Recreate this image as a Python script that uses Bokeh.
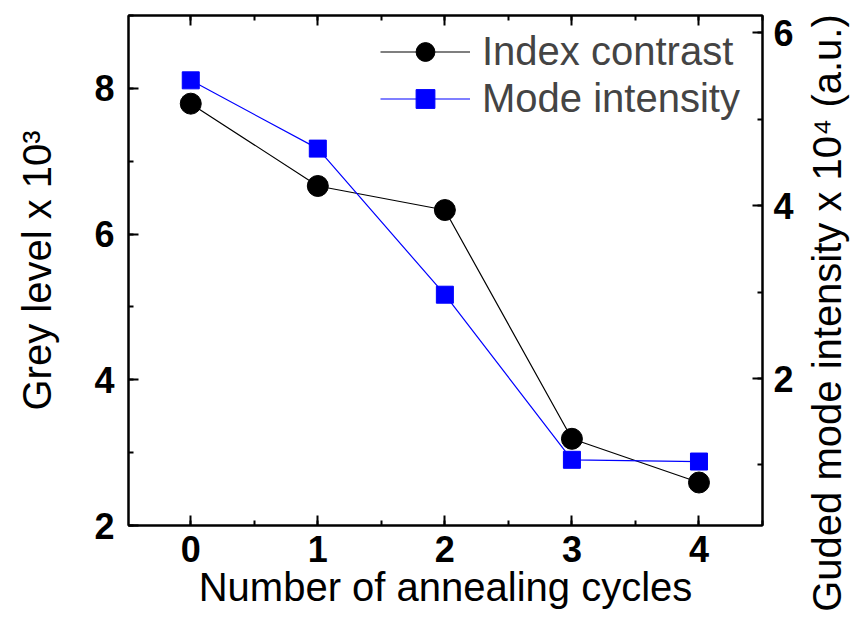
import math
from bokeh.plotting import figure
from bokeh.models import (LinearAxis, Range1d, SingleIntervalTicker, FixedTicker, Legend, LegendItem)
from bokeh.layouts import row, column
from bokeh.embed import file_html
from bokeh.resources import INLINE

cycles = [0, 1, 2, 3, 4]
index_contrast = [7.79, 6.66, 6.33, 3.19, 2.59]
mode_intensity = [5.45, 4.66, 2.97, 1.06, 1.04]
x_ticks_interval = 1
left_ticks_interval = 2
right_ticks_interval = 2

FONT = "Liberation Sans"

p = figure(frame_width=634, frame_height=510, output_backend="svg", toolbar_location=None,
           x_range=Range1d(-0.49, 4.5), y_range=Range1d(2, 9),
           min_border_left=128, min_border_right=38, min_border_top=15, min_border_bottom=100,
           x_axis_location=None, y_axis_location=None)
p.extra_y_ranges = {"right": Range1d(0.3, 6.2)}
p.grid.visible = False
p.outline_line_color = "black"
p.outline_line_width = 2
p.background_fill_color = "white"
p.border_fill_color = "white"

def style(ax):
    ax.axis_line_width = 2
    ax.axis_line_color = "black"
    ax.major_tick_in = 10
    ax.major_tick_out = 0
    ax.minor_tick_in = 5
    ax.minor_tick_out = 0
    ax.major_tick_line_width = 2
    ax.minor_tick_line_width = 2
    ax.major_label_text_font = FONT
    ax.major_label_text_font_style = "bold"
    ax.major_label_text_font_size = "36px"
    ax.major_label_text_color = "black"
    ax.axis_label_text_font = FONT
    ax.axis_label_text_font_style = "normal"
    ax.axis_label_text_font_size = "40px"
    ax.axis_label_text_color = "black"

xb = LinearAxis(ticker=SingleIntervalTicker(interval=x_ticks_interval, num_minor_ticks=2),
                axis_label="Number of annealing cycles")
style(xb)
xb.major_label_standoff = 10
xb.axis_label_standoff = 0
p.add_layout(xb, "below")

xt = LinearAxis(ticker=SingleIntervalTicker(interval=x_ticks_interval, num_minor_ticks=2))
style(xt)
xt.major_label_text_font_size = "1px"
xt.major_label_text_color = None
xt.major_label_standoff = 0
p.add_layout(xt, "above")

yl = LinearAxis(ticker=SingleIntervalTicker(interval=left_ticks_interval, num_minor_ticks=2),
                axis_label="Grey level x 10\u00b3")
style(yl)
yl.major_label_standoff = 14
yl.axis_label_standoff = 32
p.add_layout(yl, "left")

yr = LinearAxis(y_range_name="right",
                ticker=SingleIntervalTicker(interval=right_ticks_interval, num_minor_ticks=2))
style(yr)
yr.major_label_standoff = 11
p.add_layout(yr, "right")

l1 = p.line(cycles, index_contrast, line_color="black", line_width=1.2)
s1 = p.scatter(cycles, index_contrast, marker="circle", size=21, fill_color="black", line_color="black")
l2 = p.line(cycles, mode_intensity, line_color="#0000ff", line_width=1.2, y_range_name="right")
s2 = p.scatter(cycles, mode_intensity, marker="square", size=17, fill_color="#0000ff",
               line_color="#0000ff", y_range_name="right")

legend = Legend(items=[LegendItem(label="Index contrast", renderers=[l1, s1]),
                       LegendItem(label="Mode intensity", renderers=[l2, s2])],
                location=(252, 403), orientation="vertical")
legend.border_line_color = None
legend.background_fill_alpha = 0
legend.label_text_font = FONT
legend.label_text_font_size = "40px"
legend.glyph_width = 90
legend.glyph_height = 47
legend.label_height = 47
legend.label_standoff = 12
legend.spacing = 0
legend.padding = 0
legend.margin = 0
p.add_layout(legend, "center")

# narrow side panel whose (hidden) left axis carries the right-hand title, reading bottom to top
p2 = figure(width=52, height=625, output_backend="svg", toolbar_location=None,
            x_range=Range1d(0, 1), y_range=Range1d(0, 1),
            min_border_left=48, min_border_right=0, min_border_top=0, min_border_bottom=0,
            x_axis_location=None, y_axis_location=None)
p2.grid.visible = False
p2.outline_line_color = None
p2.background_fill_color = "white"
p2.border_fill_color = "white"
ya = LinearAxis(ticker=FixedTicker(ticks=[]),
                axis_label="Guded mode intensity x 10\u2074 (a.u.)")
ya.axis_line_color = None
ya.major_tick_line_color = None
ya.minor_tick_line_color = None
ya.major_label_text_color = None
ya.major_label_text_font_size = "1px"
ya.major_label_standoff = 0
ya.major_tick_out = 0
ya.minor_tick_out = 0
ya.axis_label_standoff = 0
ya.axis_label_text_font = FONT
ya.axis_label_text_font_style = "normal"
ya.axis_label_text_font_size = "40px"
ya.axis_label_text_color = "black"
p2.add_layout(ya, "left")

layout = row(p, column(p2), spacing=0)
open("out.html", "w").write(file_html(layout, INLINE))
